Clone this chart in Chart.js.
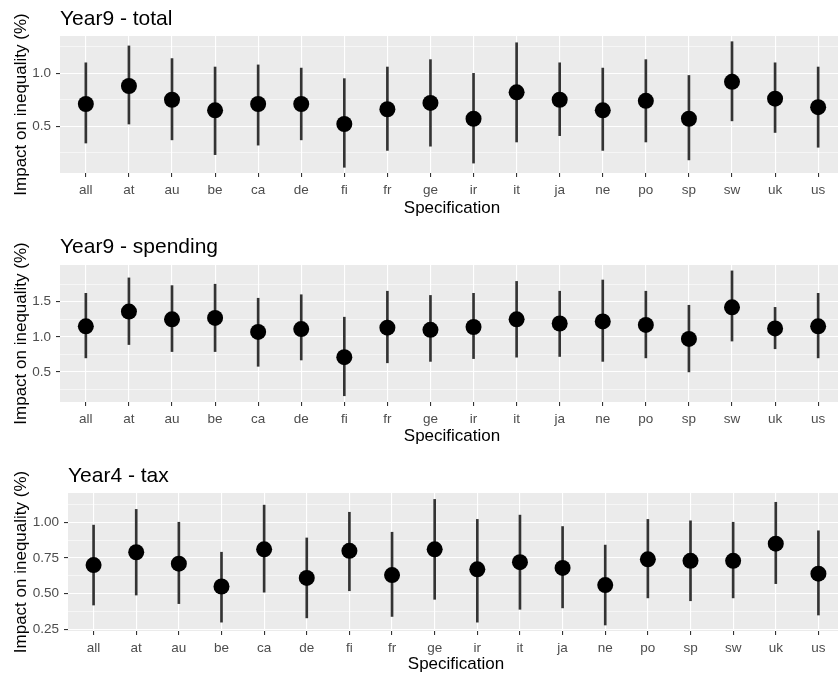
<!DOCTYPE html>
<html>
<head>
<meta charset="utf-8">
<script src="https://cdn.jsdelivr.net/npm/chart.js@4"></script>
<style>
  html, body { margin: 0; padding: 0; background: #fff; }
  #wrap { position: relative; width: 838px; height: 676px; overflow: hidden; }
  #wrap canvas { position: absolute; left: 0; }
</style>
</head>
<body>
<div id="wrap">
  <canvas id="totalChart" width="852" height="225" style="top:0px"></canvas>
  <canvas id="spendChart" width="852" height="225" style="top:225px"></canvas>
  <canvas id="taxChart" width="852" height="226" style="top:450px"></canvas>
</div>
<script>
// 국가별 사양 (x축)
const categories = ['all', 'at', 'au', 'be', 'ca', 'de', 'fi', 'fr', 'ge', 'ir', 'it', 'ja', 'ne', 'po', 'sp', 'sw', 'uk', 'us'];

// Year9 - total
const totalEst  = [0.71, 0.88, 0.75, 0.65, 0.71, 0.71, 0.52, 0.66, 0.72, 0.57, 0.82, 0.75, 0.65, 0.74, 0.57, 0.92, 0.76, 0.68];
const totalLow  = [0.34, 0.52, 0.37, 0.23, 0.32, 0.37, 0.11, 0.27, 0.31, 0.15, 0.35, 0.41, 0.27, 0.35, 0.18, 0.55, 0.44, 0.30];
const totalHigh = [1.10, 1.26, 1.14, 1.06, 1.08, 1.05, 0.95, 1.06, 1.13, 1.00, 1.29, 1.10, 1.05, 1.13, 0.98, 1.30, 1.10, 1.06];
const totalTicks = [0.5, 1.0];
const totalMinor = [0.25, 0.75, 1.25];

// Year9 - spending
const spendEst  = [1.15, 1.36, 1.25, 1.27, 1.07, 1.11, 0.71, 1.13, 1.10, 1.14, 1.25, 1.19, 1.22, 1.17, 0.97, 1.42, 1.12, 1.15];
const spendLow  = [0.70, 0.89, 0.79, 0.79, 0.58, 0.67, 0.16, 0.63, 0.65, 0.69, 0.71, 0.72, 0.65, 0.70, 0.50, 0.94, 0.83, 0.70];
const spendHigh = [1.62, 1.84, 1.73, 1.75, 1.55, 1.60, 1.28, 1.65, 1.59, 1.62, 1.79, 1.65, 1.81, 1.65, 1.45, 1.94, 1.42, 1.62];
const spendTicks = [0.5, 1.0, 1.5];
const spendMinor = [0.25, 0.75, 1.25, 1.75];

// Year4 - tax
const taxEst  = [0.70, 0.79, 0.71, 0.55, 0.81, 0.61, 0.80, 0.63, 0.81, 0.67, 0.72, 0.68, 0.56, 0.74, 0.73, 0.73, 0.85, 0.64];
const taxLow  = [0.42, 0.49, 0.43, 0.30, 0.51, 0.33, 0.52, 0.34, 0.46, 0.30, 0.39, 0.40, 0.28, 0.47, 0.45, 0.47, 0.57, 0.35];
const taxHigh = [0.98, 1.09, 1.00, 0.79, 1.12, 0.89, 1.07, 0.93, 1.16, 1.02, 1.05, 0.97, 0.84, 1.02, 1.01, 1.00, 1.14, 0.94];
const taxTicks = [0.25, 0.50, 0.75, 1.00];
const taxMinor = [0.375, 0.625, 0.875, 1.125];

const FONT = '"Liberation Sans", Arial, sans-serif';

// 패널 배경 + 제목
const panelPlugin = {
    id: 'panelPlugin',
    beforeDraw(chart) {
        const a = chart.chartArea;
        const ctx = chart.ctx;
        ctx.save();
        ctx.fillStyle = '#ebebeb';
        ctx.fillRect(a.left, a.top, a.right - a.left, a.bottom - a.top);
        ctx.restore();
    },
    afterDraw(chart, args, opts) {
        const ctx = chart.ctx;
        ctx.save();
        ctx.fillStyle = '#000';
        ctx.font = '21px ' + FONT;
        ctx.textAlign = 'left';
        ctx.textBaseline = 'alphabetic';
        ctx.fillText(opts.text, chart.chartArea.left, opts.baseline);
        ctx.restore();
    }
};

function makePanel(id, p) {
    const points = p.est.map((v, i) => ({ x: i, y: v }));
    const bars = p.low.map((v, i) => ({ x: i, y: [v, p.high[i]] }));
    const isMajor = v => p.ticks.some(t => Math.abs(t - v) < 1e-9);

    return new Chart(document.getElementById(id), {
        type: 'scatter',
        data: {
            datasets: [{
                type: 'scatter',
                data: points,
                order: 0,
                pointStyle: 'circle',
                pointRadius: 8,
                pointHoverRadius: 8,
                backgroundColor: '#000',
                borderColor: '#000',
                borderWidth: 0
            }, {
                type: 'bar',
                data: bars,
                order: 1,
                barThickness: 2,
                grouped: false,
                backgroundColor: '#333333',
                borderWidth: 0
            }]
        },
        options: {
            responsive: false,
            animation: false,
            events: [],
            layout: { padding: { top: p.padTop, left: 0, right: 2, bottom: 0 } },
            scales: {
                x: {
                    type: 'linear',
                    min: -0.6,
                    max: 17.6,
                    offset: false,
                    afterBuildTicks: scale => { scale.ticks = categories.map((c, i) => ({ value: i })); },
                    afterFit: scale => { scale.height = p.xHeight; },
                    ticks: {
                        autoSkip: false,
                        maxRotation: 0,
                        padding: 5,
                        color: '#4d4d4d',
                        font: { family: FONT, size: 13.5 },
                        callback: value => categories[value]
                    },
                    grid: {
                        offset: false,
                        color: '#ffffff',
                        lineWidth: 1.1,
                        tickColor: '#333333',
                        tickWidth: 1.1,
                        tickLength: 4
                    },
                    border: { display: false },
                    title: {
                        display: true,
                        text: 'Specification',
                        color: '#000',
                        font: { family: FONT, size: 17 },
                        padding: { top: 0, bottom: p.xTitlePad }
                    }
                },
                y: {
                    type: 'linear',
                    min: p.yMin,
                    max: p.yMax,
                    afterBuildTicks: scale => {
                        scale.ticks = p.ticks.concat(p.minor).sort((a, b) => a - b).map(v => ({ value: v }));
                    },
                    afterFit: scale => { scale.width = p.left; },
                    ticks: {
                        padding: 5,
                        color: '#4d4d4d',
                        font: { family: FONT, size: 13.5 },
                        callback: value => isMajor(value) ? value.toFixed(p.decimals) : ''
                    },
                    grid: {
                        color: '#ffffff',
                        lineWidth: ctx => isMajor(ctx.tick.value) ? 1.1 : 0.55,
                        tickColor: ctx => isMajor(ctx.tick.value) ? '#333333' : 'rgba(0,0,0,0)',
                        tickWidth: 1.1,
                        tickLength: 4
                    },
                    border: { display: false },
                    title: {
                        display: true,
                        text: 'Impact on inequality (%)',
                        color: '#000',
                        font: { family: FONT, size: 17 },
                        padding: { top: 11, bottom: 0 }
                    }
                }
            },
            plugins: {
                legend: { display: false },
                tooltip: { enabled: false },
                panelPlugin: { text: p.title, baseline: p.titleBaseline }
            }
        },
        plugins: [panelPlugin]
    });
}

document.addEventListener('DOMContentLoaded', function() {
    makePanel('totalChart', {
        title: 'Year9 - total', titleBaseline: 25,
        est: totalEst, low: totalLow, high: totalHigh,
        ticks: totalTicks, minor: totalMinor, decimals: 1,
        yMin: 0.056, yMax: 1.354,
        left: 60, padTop: 36, xHeight: 52, xTitlePad: 6
    });
    makePanel('spendChart', {
        title: 'Year9 - spending', titleBaseline: 28,
        est: spendEst, low: spendLow, high: spendHigh,
        ticks: spendTicks, minor: spendMinor, decimals: 1,
        yMin: 0.071, yMax: 2.024,
        left: 60, padTop: 40, xHeight: 48, xTitlePad: 3
    });
    makePanel('taxChart', {
        title: 'Year4 - tax', titleBaseline: 31.5,
        est: taxEst, low: taxLow, high: taxHigh,
        ticks: taxTicks, minor: taxMinor, decimals: 2,
        yMin: 0.238, yMax: 1.205,
        left: 68, padTop: 43, xHeight: 45, xTitlePad: 1
    });
});
</script>
</body>
</html>
